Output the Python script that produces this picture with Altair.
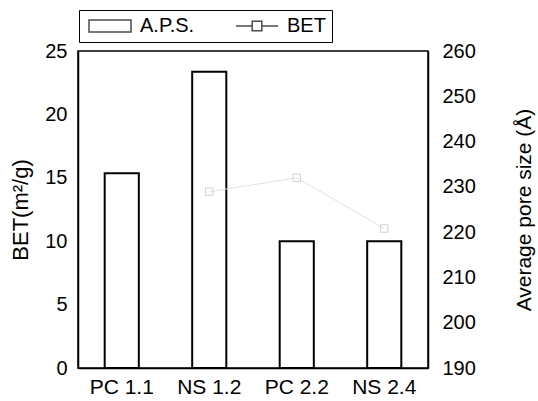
import altair as alt
import pandas as pd

# Samples along the x axis
samples = ["PC 1.1", "NS 1.2", "PC 2.2", "NS 2.4"]
# Average pore size (Å), right axis, drawn as bars
aps = [233.0, 255.4, 218.0, 218.0]
# BET surface area (m²/g), left axis, drawn as a line with square markers
bet = [None, 13.9, 15.0, 11.0]

series = ["A.P.S.", "BET"]

df = pd.DataFrame({"sample": samples, "aps": aps, "bet": bet})
legend_df = pd.DataFrame({"series": series})

FONT = "Liberation Sans"
APS_MIN, APS_MAX = 190, 260

x_enc = alt.X(
    "sample:N",
    sort=samples,
    scale=alt.Scale(paddingInner=0.61, paddingOuter=0.305),
    axis=alt.Axis(title=None, labelAngle=0, labelFontSize=21, labelPadding=8,
                  ticks=False, domainColor="black", domainWidth=1.5),
)

bars = alt.Chart(df).mark_bar(fill="white", stroke="black", strokeWidth=2).encode(
    x=x_enc,
    y=alt.Y(
        "aps:Q",
        scale=alt.Scale(domain=[APS_MIN, APS_MAX], zero=False, nice=False),
        axis=alt.Axis(
            orient="right", title="Average pore size (Å)",
            values=list(range(APS_MIN, APS_MAX + 1, 10)),
            labelFontSize=20, labelPadding=14, ticks=False, grid=False,
            domainColor="black", domainWidth=1.5,
            titleFontSize=21, titleFontWeight="normal", titleAngle=-90,
            titleBaseline="top", titlePadding=38,
        ),
    ),
    y2=alt.datum(APS_MIN),
)

line = alt.Chart(df).mark_line(
    color="#e2e2e2", strokeWidth=1,
    point=alt.OverlayMarkDef(shape="square", filled=False, size=55, color="#d2d2d2", strokeWidth=1),
).encode(
    x=alt.X("sample:N", sort=samples),
    y=alt.Y(
        "bet:Q",
        scale=alt.Scale(domain=[0, 25], nice=False),
        axis=alt.Axis(
            orient="left", title="BET(m²/g)", values=[0, 5, 10, 15, 20, 25],
            labelFontSize=20, labelPadding=11, ticks=False, grid=False,
            domainColor="black", domainWidth=1.5,
            titleFontSize=22, titleFontWeight="normal", titlePadding=12,
        ),
    ),
)

# Legend-only layer: wide box for A.P.S., line with a square for BET
rect_path = "M-1,-1H6V1H-1Z"
bet_path = "M-1,0H1.7M3.3,0H6M1.7,-0.8H3.3V0.8H1.7Z"

legend_layer = alt.Chart(legend_df).transform_filter("false").mark_point(
    filled=False, color="black", strokeWidth=1.5
).encode(
    shape=alt.Shape(
        "series:N",
        scale=alt.Scale(domain=series, range=[rect_path, bet_path]),
        legend=alt.Legend(
            title=None, orient="none", legendX=1, legendY=-41, direction="horizontal",
            strokeColor="black", padding=6, symbolSize=144, labelOffset=35,
            columnPadding=37, labelFontSize=20, symbolStrokeColor="black",
            symbolStrokeWidth=1.5, symbolFillColor="transparent",
        ),
    )
)

chart = (
    alt.layer(bars, line, legend_layer)
    .resolve_scale(y="independent")
    .properties(
        width=350, height=317,
        autosize=alt.AutoSizeParams(type="none"),
        padding={"left": 78, "top": 51, "right": 110, "bottom": 33},
    )
    .configure(font=FONT)
    .configure_view(stroke="black", strokeWidth=1.5)
    .configure_axis(labelColor="black", titleColor="black", labelFont=FONT, titleFont=FONT)
    .configure_legend(labelColor="black", labelFont=FONT)
)

chart.save("out.html", embed_options={"renderer": "svg", "actions": False})
